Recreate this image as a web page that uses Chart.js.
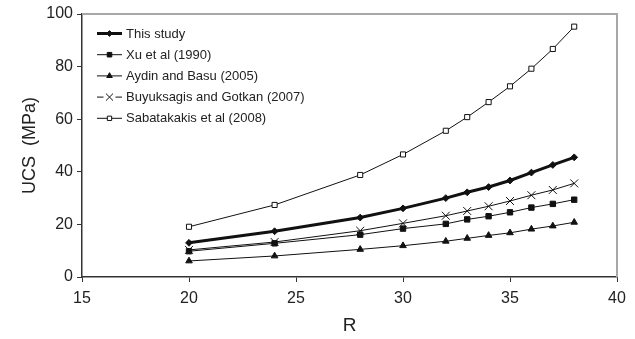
<!DOCTYPE html>
<html>
<head>
<meta charset="utf-8">
<title>UCS vs R</title>
<script src="https://cdn.jsdelivr.net/npm/chart.js@4.4.1/dist/chart.umd.min.js"></script>
<style>
  html, body { margin: 0; padding: 0; background: #fff; }
  #wrap { width: 635px; height: 339px; }
</style>
</head>
<body>
<div id="wrap"><canvas id="chart" width="635" height="339"></canvas></div>
<script>
// Schmidt hammer rebound number (R)
const rebound = [20, 24, 28, 30, 32, 33, 34, 35, 36, 37, 38];

// Uniaxial compressive strength (MPa) predicted by each relation
const thisStudy   = [13.0, 17.4, 22.6, 26.1, 30.0, 32.2, 34.2, 36.7, 39.7, 42.6, 45.5];
const xu1990      = [9.8, 12.8, 16.1, 18.4, 20.2, 21.9, 23.1, 24.6, 26.4, 27.8, 29.4];
const aydin2005   = [6.1, 8.0, 10.5, 11.9, 13.6, 14.7, 15.8, 16.8, 18.2, 19.4, 20.8];
const buyuk2007   = [10.3, 13.3, 17.6, 20.4, 23.3, 25.1, 26.9, 28.9, 31.1, 33.1, 35.6];
const sabat2008   = [19.1, 27.4, 38.8, 46.6, 55.6, 60.8, 66.5, 72.5, 79.2, 86.7, 95.2];

const seriesNames = [
  'This study',
  'Xu et al (1990)',
  'Aydin and Basu (2005)',
  'Buyuksagis and Gotkan (2007)',
  'Sabatakakis et al (2008)'
];

const xTicks = [15, 20, 25, 30, 35, 40];
const yTicks = [0, 20, 40, 60, 80, 100];

const FONT = '"Liberation Sans", Arial, Helvetica, sans-serif';
const INK = '#111';

function pts(vals) {
  return rebound.map((r, i) => ({ x: r, y: vals[i] }));
}

const datasets = [
  { label: seriesNames[0], data: pts(thisStudy), borderColor: INK, borderWidth: 3,
    pointStyle: 'rectRot', pointRadius: 3.4, pointBackgroundColor: INK, pointBorderColor: INK, pointBorderWidth: 1 },
  { label: seriesNames[1], data: pts(xu1990), borderColor: INK, borderWidth: 1,
    pointStyle: 'rect', pointRadius: 3.8, pointBackgroundColor: INK, pointBorderColor: INK, pointBorderWidth: 1 },
  { label: seriesNames[2], data: pts(aydin2005), borderColor: INK, borderWidth: 1,
    pointStyle: 'triangle', pointRadius: 3.8, pointBackgroundColor: INK, pointBorderColor: INK, pointBorderWidth: 1 },
  { label: seriesNames[3], data: pts(buyuk2007), borderColor: INK, borderWidth: 1,
    pointStyle: 'crossRot', pointRadius: 5.6, pointBackgroundColor: INK, pointBorderColor: INK, pointBorderWidth: 1 },
  { label: seriesNames[4], data: pts(sabat2008), borderColor: INK, borderWidth: 1,
    pointStyle: 'rect', pointRadius: 3.6, pointBackgroundColor: '#fff', pointBorderColor: INK, pointBorderWidth: 1 }
];
datasets.forEach(d => { d.tension = 0; d.fill = false; d.pointHoverRadius = d.pointRadius; });

// Light frame on the top and right of the plotting area
const frame = {
  id: 'frame',
  beforeDatasetsDraw(chart) {
    const { ctx, chartArea: a } = chart;
    ctx.save();
    ctx.strokeStyle = '#a8a8a8';
    ctx.lineWidth = 2;
    ctx.beginPath();
    ctx.moveTo(a.left, a.top);
    ctx.lineTo(a.right, a.top);
    ctx.lineTo(a.right, a.bottom);
    ctx.stroke();
    ctx.restore();
  }
};

function drawMarker(ctx, ds, x, y, radius) {
  ctx.save();
  ctx.fillStyle = ds.pointBackgroundColor;
  ctx.strokeStyle = ds.pointBorderColor;
  ctx.lineWidth = ds.pointBorderWidth;
  Chart.helpers.drawPoint(ctx, {
    pointStyle: ds.pointStyle,
    radius: radius,
    rotation: 0,
    borderWidth: ds.pointBorderWidth
  }, x, y);
  ctx.restore();
}

// Legend drawn inside the plot: line sample with its marker, then the name
const innerLegend = {
  id: 'innerLegend',
  afterDatasetsDraw(chart) {
    const { ctx } = chart;
    const x0 = 97, x1 = 122, y0 = 33.5, dy = 21.2;
    const xm = (x0 + x1) / 2;
    ctx.save();
    chart.data.datasets.forEach((ds, i) => {
      const y = y0 + i * dy;
      const r = ds.pointStyle === 'crossRot' ? 5 : ds.pointRadius * 0.85;
      ctx.strokeStyle = ds.borderColor;
      ctx.lineWidth = ds.borderWidth;
      ctx.beginPath();
      if (ds.pointStyle === 'crossRot') {
        // the cross sits in a small gap of the sample line
        ctx.moveTo(x0, y); ctx.lineTo(xm - 6, y);
        ctx.moveTo(xm + 6, y); ctx.lineTo(x1, y);
      } else {
        ctx.moveTo(x0, y); ctx.lineTo(x1, y);
      }
      ctx.stroke();
      drawMarker(ctx, ds, xm, y, r);
      ctx.fillStyle = '#222';
      ctx.font = '13px ' + FONT;
      ctx.textBaseline = 'middle';
      ctx.textAlign = 'left';
      ctx.fillText(ds.label, x1 + 4, y + 0.5);
    });
    ctx.restore();
  }
};

new Chart(document.getElementById('chart'), {
  type: 'line',
  data: { datasets },
  options: {
    responsive: false,
    animation: false,
    devicePixelRatio: 1,
    layout: { padding: { top: 14, right: 18, left: 0, bottom: 0 } },
    plugins: {
      legend: { display: false },
      tooltip: { enabled: false }
    },
    scales: {
      x: {
        type: 'linear',
        min: 15, max: 40,
        afterBuildTicks: s => { s.ticks = xTicks.map(v => ({ value: v })); },
        afterFit: s => { s.height = 62; },
        grid: { drawOnChartArea: false, drawTicks: true, tickLength: 5, color: '#333', lineWidth: 1 },
        border: { color: '#333', width: 1.5 },
        ticks: { color: '#222', font: { family: FONT, size: 16 }, padding: 7, maxRotation: 0 },
        title: { display: true, text: 'R', color: '#222', font: { family: FONT, size: 19 }, padding: { top: 0, bottom: 2 } }
      },
      y: {
        min: 0, max: 100,
        afterBuildTicks: s => { s.ticks = yTicks.map(v => ({ value: v })); },
        afterFit: s => { s.width = 82; },
        grid: { drawOnChartArea: false, drawTicks: true, tickLength: 5, color: '#333', lineWidth: 1 },
        border: { color: '#333', width: 1.5 },
        ticks: { color: '#222', font: { family: FONT, size: 16 }, padding: 4 },
        title: { display: true, text: 'UCS  (MPa)', color: '#222', font: { family: FONT, size: 18 }, padding: { top: 19, bottom: 0 } }
      }
    }
  },
  plugins: [frame, innerLegend]
});
</script>
</body>
</html>
